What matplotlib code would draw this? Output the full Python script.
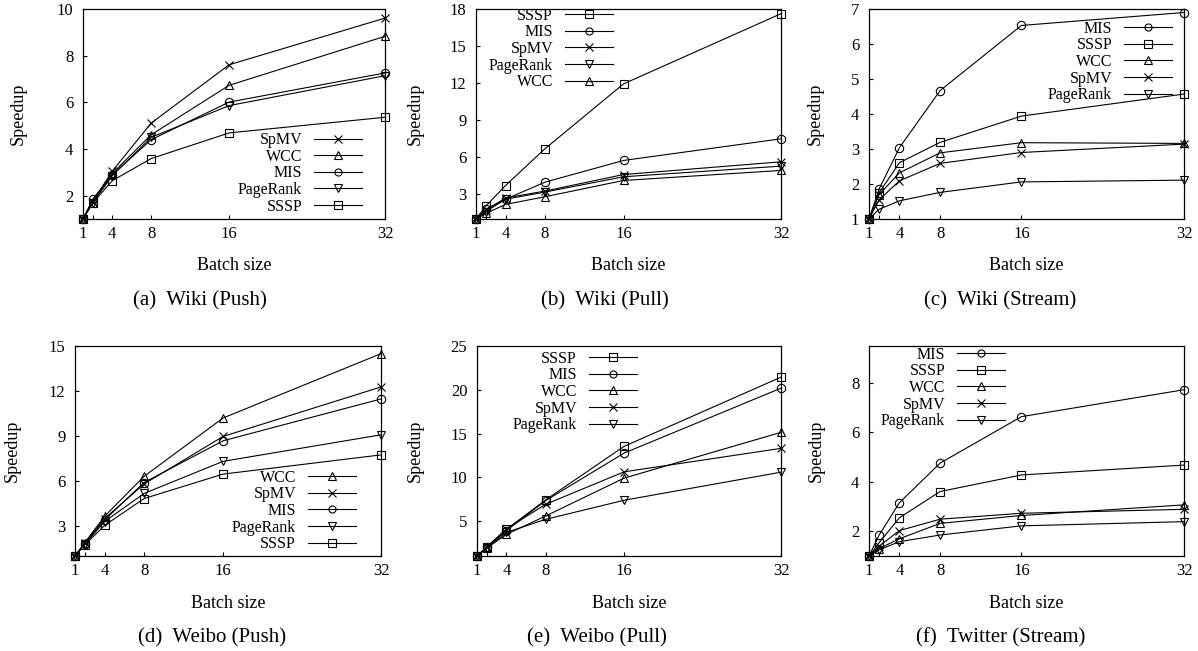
import matplotlib
matplotlib.use("Agg")
import matplotlib.pyplot as plt

plt.rcParams['font.family'] = ['Liberation Serif', 'DejaVu Serif']

batch = [1, 2, 4, 8, 16, 32]
xtick_labels = ['1', '', '4', '8', '16', '32']

# (a) Wiki (Push)
a_spmv = [1, 1.75, 3.05, 5.11, 7.61, 9.61]
a_wcc = [1, 1.7, 2.95, 4.61, 6.73, 8.83]
a_mis = [1, 1.85, 2.9, 4.4, 6.01, 7.26]
a_pr = [1, 1.7, 2.85, 4.5, 5.86, 7.14]
a_sssp = [1, 1.69, 2.64, 3.59, 4.69, 5.36]

# (b) Wiki (Pull)
b_sssp = [1, 2.04, 3.71, 6.68, 11.94, 17.62]
b_mis = [1, 1.8, 2.6, 3.98, 5.74, 7.49]
b_spmv = [1, 1.7, 2.7, 3.26, 4.6, 5.63]
b_pr = [1, 1.6, 2.6, 3.18, 4.42, 5.28]
b_wcc = [1, 1.45, 2.18, 2.8, 4.12, 4.93]

# (c) Wiki (Stream)
c_mis = [1, 1.86, 3.04, 4.67, 6.53, 6.9]
c_sssp = [1, 1.75, 2.61, 3.19, 3.94, 4.57]
c_wcc = [1, 1.7, 2.32, 2.89, 3.18, 3.16]
c_spmv = [1, 1.55, 2.09, 2.59, 2.9, 3.14]
c_pr = [1, 1.28, 1.52, 1.76, 2.06, 2.11]

# (d) Weibo (Push)
d_wcc = [1, 1.9, 3.65, 6.31, 10.2, 14.49]
d_spmv = [1, 1.85, 3.5, 5.8, 8.97, 12.27]
d_mis = [1, 1.8, 3.4, 5.9, 8.68, 11.47]
d_pr = [1, 1.8, 3.3, 5.17, 7.31, 9.08]
d_sssp = [1, 1.75, 3.04, 4.83, 6.46, 7.74]

# (e) Weibo (Pull)
e_sssp = [1, 2.06, 4.04, 7.41, 13.53, 21.44]
e_mis = [1, 2.0, 3.9, 7.33, 12.76, 20.18]
e_wcc = [1, 1.9, 3.47, 5.57, 9.9, 15.13]
e_spmv = [1, 2.0, 4.1, 6.91, 10.62, 13.3]
e_pr = [1, 1.9, 3.7, 5.19, 7.37, 10.58]

# (f) Twitter (Stream)
f_mis = [1, 1.85, 3.16, 4.76, 6.64, 7.73]
f_sssp = [1, 1.54, 2.55, 3.61, 4.28, 4.68]
f_wcc = [1, 1.3, 1.7, 2.32, 2.64, 3.07]
f_spmv = [1, 1.4, 2.03, 2.49, 2.73, 2.89]
f_pr = [1, 1.25, 1.58, 1.85, 2.22, 2.39]

markers = {'SpMV': 'x', 'WCC': '^', 'MIS': 'o', 'PageRank': 'v', 'SSSP': 's'}

panels = [
    dict(series=[('SpMV', a_spmv), ('WCC', a_wcc), ('MIS', a_mis), ('PageRank', a_pr), ('SSSP', a_sssp)],
         ylim=(1, 10), yticks=[2, 4, 6, 8, 10], caption='(a)  Wiki (Push)'),
    dict(series=[('SSSP', b_sssp), ('MIS', b_mis), ('SpMV', b_spmv), ('PageRank', b_pr), ('WCC', b_wcc)],
         ylim=(1, 18), yticks=[3, 6, 9, 12, 15, 18], caption='(b)  Wiki (Pull)'),
    dict(series=[('MIS', c_mis), ('SSSP', c_sssp), ('WCC', c_wcc), ('SpMV', c_spmv), ('PageRank', c_pr)],
         ylim=(1, 7), yticks=[1, 2, 3, 4, 5, 6, 7], caption='(c)  Wiki (Stream)'),
    dict(series=[('WCC', d_wcc), ('SpMV', d_spmv), ('MIS', d_mis), ('PageRank', d_pr), ('SSSP', d_sssp)],
         ylim=(1, 15), yticks=[3, 6, 9, 12, 15], caption='(d)  Weibo (Push)'),
    dict(series=[('SSSP', e_sssp), ('MIS', e_mis), ('WCC', e_wcc), ('SpMV', e_spmv), ('PageRank', e_pr)],
         ylim=(1, 25), yticks=[5, 10, 15, 20, 25], caption='(e)  Weibo (Pull)'),
    dict(series=[('MIS', f_mis), ('SSSP', f_sssp), ('WCC', f_wcc), ('SpMV', f_spmv), ('PageRank', f_pr)],
         ylim=(1, 9.5), yticks=[2, 4, 6, 8], caption='(f)  Twitter (Stream)'),
]

W, H = 1198, 651
# axes boxes in pixels: left, right, top, bottom
boxes = [(83, 385, 9, 219), (476, 781, 9, 219), (869, 1184, 9, 219),
         (75, 381, 346, 556), (477, 781, 346, 556), (869, 1184, 346, 556)]
legend_anchor = [(0.924, 0.217), (0.449, 0.81), (0.962, 0.748),
                 (0.918, 0.214), (0.526, 0.781), (0.432, 0.80)]
ylabel_x = [-0.215, -0.20, -0.171, -0.206, -0.204, -0.168]
caption_x = [200, 605, 1000, 212, 597, 1001]

fig = plt.figure(figsize=(W / 100, H / 100), dpi=100)

for i, p in enumerate(panels):
    l, r, t, b = boxes[i]
    ax = fig.add_axes([l / W, 1 - b / H, (r - l) / W, (b - t) / H])
    for name, vals in p['series']:
        ax.plot(batch, vals, color='black', linewidth=0.8, marker=markers[name],
                markersize=6, markerfacecolor='none', markeredgecolor='black',
                markeredgewidth=0.8, label=name, clip_on=False)
    ax.set_xlim(1, 32)
    ax.set_ylim(*p['ylim'])
    ax.set_xticks(batch)
    ax.set_xticklabels(xtick_labels)
    ax.set_yticks(p['yticks'])
    ax.tick_params(direction='in', length=3, width=0.8, labelsize=12)
    ax.tick_params(axis='x', pad=5)
    ax.tick_params(axis='y', pad=7)
    for s in ax.spines.values():
        s.set_linewidth(0.9)
    ax.set_xlabel('Batch size', fontsize=13)
    ax.xaxis.label.set_va('center')
    ax.xaxis.set_label_coords(0.5, -47 / 210)
    ax.set_ylabel('Speedup', fontsize=13)
    ax.yaxis.label.set_va('center')
    ax.yaxis.set_label_coords(ylabel_x[i], 0.5)
    ax.legend(loc='center right', bbox_to_anchor=legend_anchor[i], frameon=False,
              markerfirst=False, fontsize=11.5, handlelength=3.0, handletextpad=0.75,
              labelspacing=0.04, borderpad=0, borderaxespad=0, markerscale=0.85)
    cy = b + 82
    fig.text(caption_x[i] / W, 1 - cy / H, p['caption'], fontsize=15,
             ha='center', va='center')

fig.savefig('out.png', dpi=100)
